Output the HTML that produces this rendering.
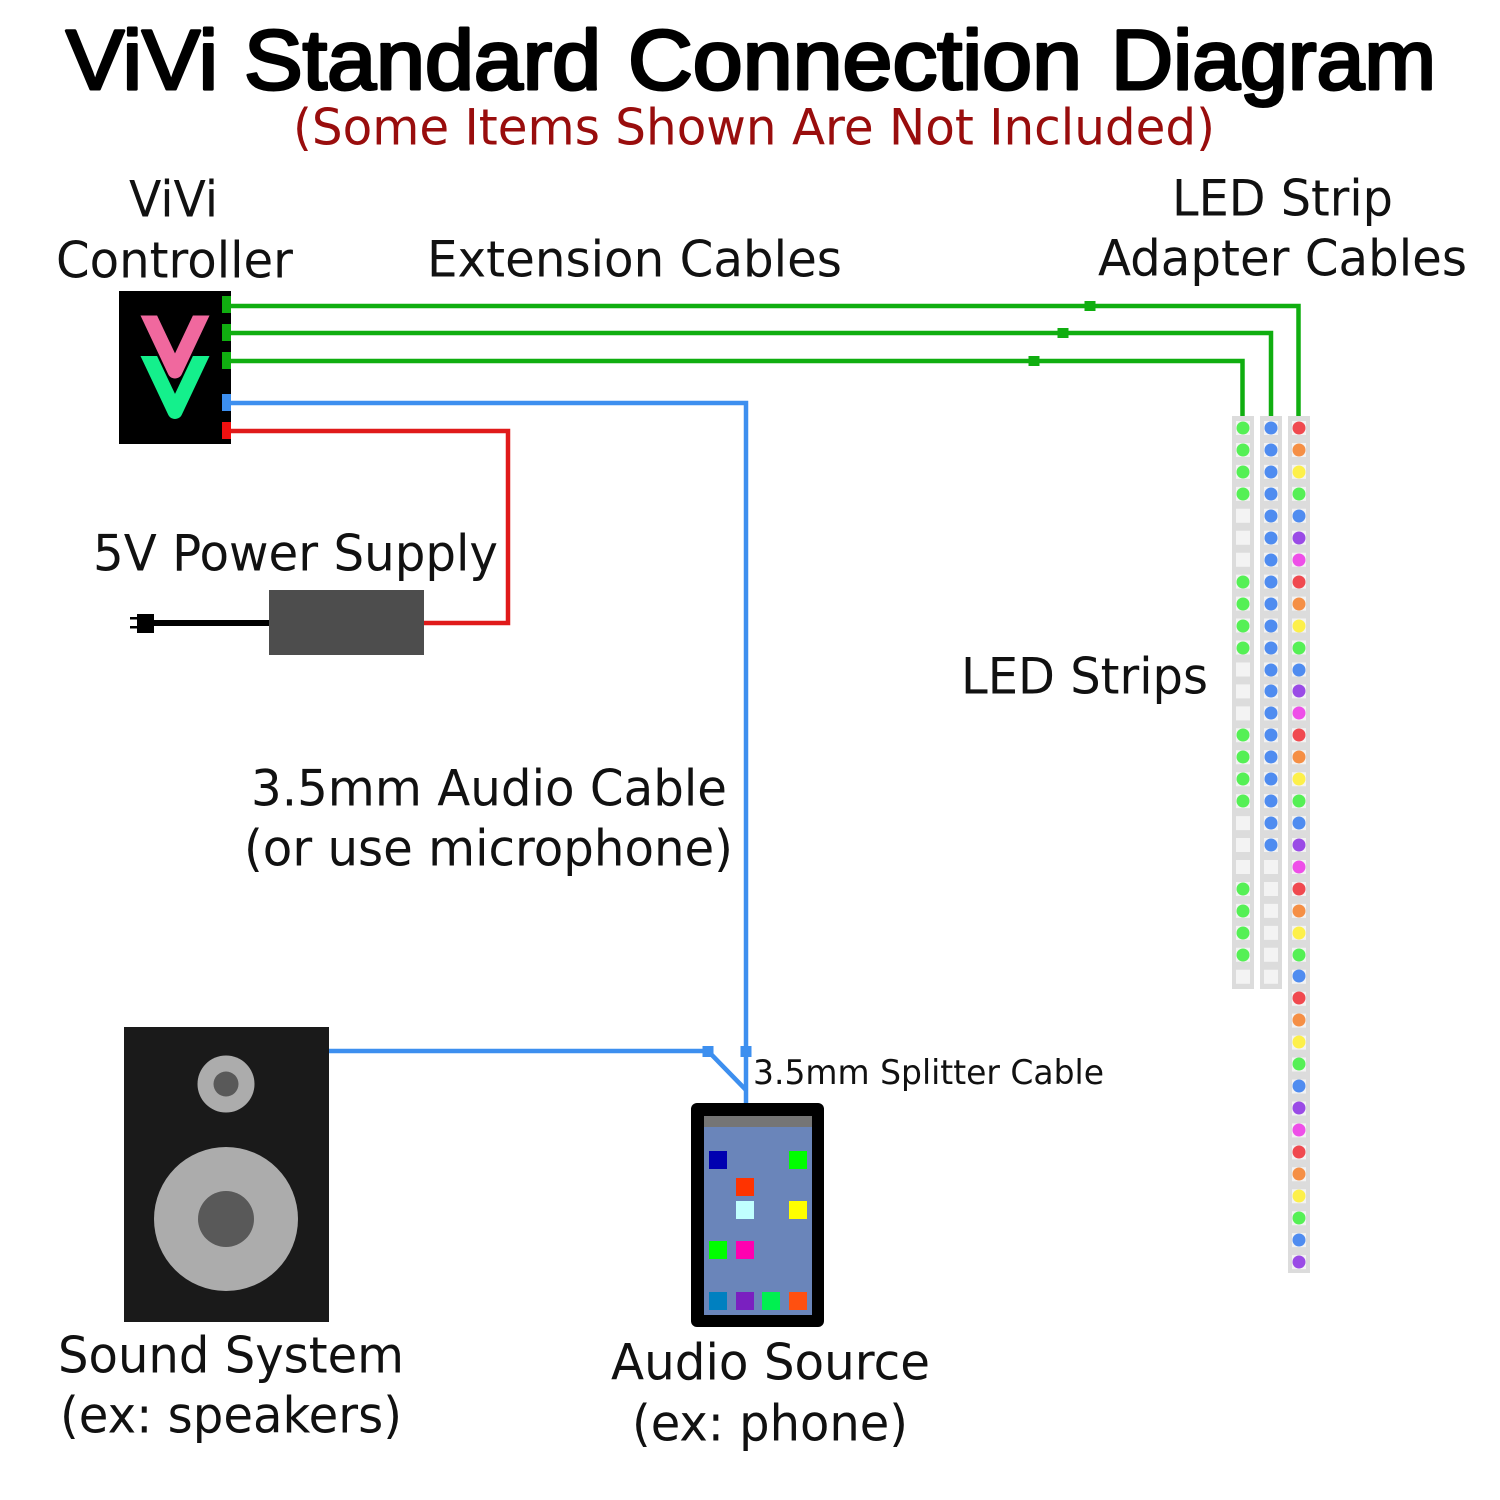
<!DOCTYPE html>
<html><head><meta charset="utf-8"><title>ViVi Standard Connection Diagram</title>
<style>
html,body{margin:0;padding:0;background:#fff}
svg{display:block}
text{font-family:"DejaVu Sans",sans-serif;font-size:50px;fill:#111}
.t{font-family:"Liberation Sans",sans-serif;font-weight:normal;font-size:84px;fill:#000;stroke:#000;stroke-width:3;stroke-linejoin:round}
.s circle{r:6.5px}
.g{fill:#55f055}.b{fill:#4f8cf0}.r{fill:#f0494f}.o{fill:#f58f45}.y{fill:#fdf04a}.p{fill:#9a4be6}.m{fill:#ee4fe8}
</style></head><body>
<svg width="1500" height="1500" viewBox="0 0 1500 1500" xmlns="http://www.w3.org/2000/svg">
<rect width="1500" height="1500" fill="#fff"/>
<text class="t" x="66" y="89" textLength="152" lengthAdjust="spacingAndGlyphs">ViVi</text>
<text class="t" x="244" y="89" textLength="357" lengthAdjust="spacingAndGlyphs">Standard</text>
<text class="t" x="628" y="89" textLength="454" lengthAdjust="spacingAndGlyphs">Connection</text>
<text class="t" x="1111" y="89" textLength="325" lengthAdjust="spacingAndGlyphs">Diagram</text>
<text x="293" y="144.500" textLength="922" lengthAdjust="spacingAndGlyphs" style="fill:#990d0d">(Some Items Shown Are Not Included)</text>
<text x="129" y="216.500" textLength="89" lengthAdjust="spacingAndGlyphs">ViVi</text>
<text x="56" y="277.500" textLength="237" lengthAdjust="spacingAndGlyphs">Controller</text>
<text x="427" y="276.500" textLength="415" lengthAdjust="spacingAndGlyphs">Extension Cables</text>
<text x="1172" y="215.500" textLength="221" lengthAdjust="spacingAndGlyphs">LED Strip</text>
<text x="1098" y="275.500" textLength="369" lengthAdjust="spacingAndGlyphs">Adapter Cables</text>
<text x="93" y="570.500" textLength="405" lengthAdjust="spacingAndGlyphs">5V Power Supply</text>
<text x="961" y="693.500" textLength="247" lengthAdjust="spacingAndGlyphs">LED Strips</text>
<text x="251" y="805.500" textLength="476" lengthAdjust="spacingAndGlyphs">3.5mm Audio Cable</text>
<text x="244" y="865.500" textLength="489" lengthAdjust="spacingAndGlyphs">(or use microphone)</text>
<text x="753" y="1084" textLength="351" lengthAdjust="spacingAndGlyphs" style="font-size:34px">3.5mm Splitter Cable</text>
<text x="58" y="1372.500" textLength="346" lengthAdjust="spacingAndGlyphs">Sound System</text>
<text x="60" y="1432.500" textLength="342" lengthAdjust="spacingAndGlyphs">(ex: speakers)</text>
<text x="611" y="1379.500" textLength="319" lengthAdjust="spacingAndGlyphs">Audio Source</text>
<text x="632" y="1440.500" textLength="276" lengthAdjust="spacingAndGlyphs">(ex: phone)</text>

<!-- strips -->
<rect x="1232" y="416" width="22" height="573" fill="#dcdcdc"/>
<rect x="1260" y="416" width="22" height="573" fill="#dcdcdc"/>
<rect x="1288" y="416" width="22" height="857" fill="#dcdcdc"/>
<line x1="1243" y1="421" x2="1243" y2="985" stroke="#f3f3f3" stroke-width="14" stroke-dasharray="14 7.950"/>
<line x1="1271" y1="421" x2="1271" y2="985" stroke="#f3f3f3" stroke-width="14" stroke-dasharray="14 7.950"/>
<line x1="1299" y1="421" x2="1299" y2="1270" stroke="#f3f3f3" stroke-width="14" stroke-dasharray="14 7.950"/>
<g class="s">
<circle cx="1243" cy="428" class="g"/><circle cx="1243" cy="450" class="g"/><circle cx="1243" cy="472" class="g"/><circle cx="1243" cy="494" class="g"/>
<circle cx="1243" cy="582" class="g"/><circle cx="1243" cy="604" class="g"/><circle cx="1243" cy="626" class="g"/><circle cx="1243" cy="648" class="g"/>
<circle cx="1243" cy="735" class="g"/><circle cx="1243" cy="757" class="g"/><circle cx="1243" cy="779" class="g"/><circle cx="1243" cy="801" class="g"/>
<circle cx="1243" cy="889" class="g"/><circle cx="1243" cy="911" class="g"/><circle cx="1243" cy="933" class="g"/><circle cx="1243" cy="955" class="g"/>

<circle cx="1271" cy="428" class="b"/><circle cx="1271" cy="450" class="b"/><circle cx="1271" cy="472" class="b"/><circle cx="1271" cy="494" class="b"/><circle cx="1271" cy="516" class="b"/>
<circle cx="1271" cy="538" class="b"/><circle cx="1271" cy="560" class="b"/><circle cx="1271" cy="582" class="b"/><circle cx="1271" cy="604" class="b"/><circle cx="1271" cy="626" class="b"/>
<circle cx="1271" cy="648" class="b"/><circle cx="1271" cy="670" class="b"/><circle cx="1271" cy="691" class="b"/><circle cx="1271" cy="713" class="b"/><circle cx="1271" cy="735" class="b"/>
<circle cx="1271" cy="757" class="b"/><circle cx="1271" cy="779" class="b"/><circle cx="1271" cy="801" class="b"/><circle cx="1271" cy="823" class="b"/><circle cx="1271" cy="845" class="b"/>

<circle cx="1299" cy="428" class="r"/><circle cx="1299" cy="450" class="o"/><circle cx="1299" cy="472" class="y"/><circle cx="1299" cy="494" class="g"/><circle cx="1299" cy="516" class="b"/><circle cx="1299" cy="538" class="p"/><circle cx="1299" cy="560" class="m"/>
<circle cx="1299" cy="582" class="r"/><circle cx="1299" cy="604" class="o"/><circle cx="1299" cy="626" class="y"/><circle cx="1299" cy="648" class="g"/><circle cx="1299" cy="670" class="b"/><circle cx="1299" cy="691" class="p"/><circle cx="1299" cy="713" class="m"/>
<circle cx="1299" cy="735" class="r"/><circle cx="1299" cy="757" class="o"/><circle cx="1299" cy="779" class="y"/><circle cx="1299" cy="801" class="g"/><circle cx="1299" cy="823" class="b"/><circle cx="1299" cy="845" class="p"/><circle cx="1299" cy="867" class="m"/>
<circle cx="1299" cy="889" class="r"/><circle cx="1299" cy="911" class="o"/><circle cx="1299" cy="933" class="y"/><circle cx="1299" cy="955" class="g"/><circle cx="1299" cy="976" class="b"/>
<circle cx="1299" cy="998" class="r"/><circle cx="1299" cy="1020" class="o"/><circle cx="1299" cy="1042" class="y"/><circle cx="1299" cy="1064" class="g"/><circle cx="1299" cy="1086" class="b"/><circle cx="1299" cy="1108" class="p"/><circle cx="1299" cy="1130" class="m"/>
<circle cx="1299" cy="1152" class="r"/><circle cx="1299" cy="1174" class="o"/><circle cx="1299" cy="1196" class="y"/><circle cx="1299" cy="1218" class="g"/><circle cx="1299" cy="1240" class="b"/><circle cx="1299" cy="1262" class="p"/>
</g>

<!-- cables -->
<g fill="none" stroke-width="4.500" stroke-linejoin="miter">
<path d="M229 306H1298.500V416" stroke="#10ae10"/>
<path d="M229 333H1271V416" stroke="#10ae10"/>
<path d="M229 361H1242.500V416" stroke="#10ae10"/>
<path d="M229 403H746V1104" stroke="#3d8fef"/>
<path d="M329 1051H708L746 1090" stroke="#3d8fef"/>
<path d="M229 431H508V623H424" stroke="#e01a1a"/>
</g>
<rect x="1084.500" y="301" width="11" height="10" fill="#10ae10"/>
<rect x="1057.500" y="328" width="11" height="10" fill="#10ae10"/>
<rect x="1028.500" y="356" width="11" height="10" fill="#10ae10"/>
<rect x="702.500" y="1046" width="11" height="11" fill="#3d8fef"/>
<rect x="740.500" y="1046" width="11" height="11" fill="#3d8fef"/>

<!-- controller -->
<rect x="119" y="291" width="112" height="153" fill="#000"/>
<clipPath id="c1"><rect x="130" y="315.500" width="90" height="70"/></clipPath>
<clipPath id="c2"><rect x="130" y="356" width="90" height="70"/></clipPath>
<path d="M141 299L175 371L209 299" clip-path="url(#c1)" fill="none" stroke="#f0689e" stroke-width="15" stroke-linejoin="round"/>
<path d="M141 339.500L175 411.500L209 339.500" clip-path="url(#c2)" fill="none" stroke="#14f08c" stroke-width="15" stroke-linejoin="round"/>
<rect x="222" y="296" width="9" height="17" fill="#10ae10"/>
<rect x="222" y="324" width="9" height="17" fill="#10ae10"/>
<rect x="222" y="352" width="9" height="17" fill="#10ae10"/>
<rect x="222" y="394" width="9" height="17" fill="#3d8fef"/>
<rect x="222" y="422" width="9" height="17" fill="#f01010"/>

<!-- power supply -->
<rect x="269" y="590" width="155" height="65" fill="#4d4d4d"/>
<rect x="150" y="620" width="119" height="6" fill="#000"/>
<rect x="137" y="614" width="17" height="19" fill="#000"/>
<rect x="130" y="617" width="8" height="2.500" fill="#000"/>
<rect x="130" y="626" width="8" height="2.500" fill="#000"/>

<!-- speaker -->
<rect x="124" y="1027" width="205" height="295" fill="#1a1a1a"/>
<circle cx="226" cy="1084" r="28.500" fill="#acacac"/>
<circle cx="226" cy="1084" r="12.500" fill="#595959"/>
<circle cx="226" cy="1219" r="72" fill="#acacac"/>
<circle cx="226" cy="1219" r="28" fill="#595959"/>

<!-- phone -->
<rect x="691" y="1103" width="133" height="224" rx="6" fill="#000"/>
<rect x="704" y="1116" width="108" height="199" fill="#6a85ba"/>
<rect x="704" y="1116" width="108" height="11" fill="#757575"/>
<rect x="709" y="1151" width="18" height="18" fill="#0000b0"/>
<rect x="789" y="1151" width="18" height="18" fill="#00ff00"/>
<rect x="736" y="1178" width="18" height="18" fill="#ff3300"/>
<rect x="736" y="1201" width="18" height="18" fill="#c0ffff"/>
<rect x="789" y="1201" width="18" height="18" fill="#ffff00"/>
<rect x="709" y="1241" width="18" height="18" fill="#00ff00"/>
<rect x="736" y="1241" width="18" height="18" fill="#ff00b0"/>
<rect x="709" y="1292" width="18" height="18" fill="#0080c0"/>
<rect x="736" y="1292" width="18" height="18" fill="#7a20c0"/>
<rect x="762" y="1292" width="18" height="18" fill="#00f050"/>
<rect x="789" y="1292" width="18" height="18" fill="#ff5010"/>
</svg>
</body></html>
